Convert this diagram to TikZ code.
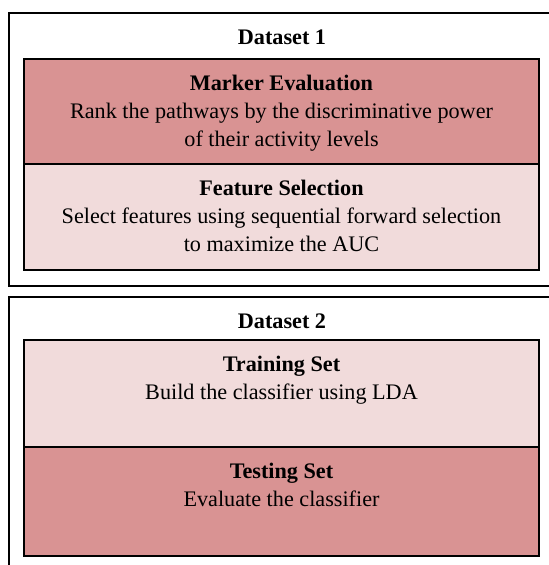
\documentclass[tikz,border=0pt]{standalone}
\usepackage{fontspec}
\setmainfont{Liberation Serif}

\definecolor{darkrose}{RGB}{217,147,147}
\definecolor{lightrose}{RGB}{241,219,219}

\begin{document}
\begin{tikzpicture}[
            x=0.5pt,
            y=-0.5pt,
            dataset/.style={
                draw,
                line width=0.6pt,
                minimum width=273.5pt,
                inner sep=0pt
            },
            stage/.style={
                draw,
                line width=0.6pt,
                minimum width=257.5pt,
                inner sep=0pt
            },
            caption/.style={
                anchor=north,
                align=center,
                inner sep=0pt,
                yshift=-8pt,
                font=\fontsize{11.1}{14}\selectfont
            }
        ]

            \useasboundingbox (0, 0) rectangle (548, 565);

            \node[dataset, minimum height=136.5pt] (set1) at (282.5, 149.5) {};
            \node[dataset, minimum height=139pt] (set2) at (282.5, 436) {};

            \node[stage, fill=darkrose, minimum height=52.5pt] (marker) at (281.5, 111.5) {};
            \node[stage, fill=lightrose, minimum height=53pt] (feature) at (281.5, 217) {};
            \node[stage, fill=lightrose, minimum height=53.5pt] (train) at (281.5, 393.5) {};
            \node[stage, fill=darkrose, minimum height=54.5pt] (test) at (281.5, 501.5) {};

            \node[caption] (set1-text) at (282, 13) {\textbf{Dataset 1}};
            \node[caption] (set2-text) at (282, 297) {\textbf{Dataset 2}};

            \node[caption] (marker-text) at (marker.north) {\textbf{Marker Evaluation}\\
                Rank the pathways by the discriminative power\\
                of their activity levels};
            \node[caption] (feature-text) at (feature.north) {\textbf{Feature Selection}\\
                Select features using sequential forward selection\\
                to maximize the AUC};
            \node[caption] (train-text) at (train.north) {\textbf{Training Set}\\
                Build the classifier using LDA};
            \node[caption] (test-text) at (test.north) {\textbf{Testing Set}\\
                Evaluate the classifier};

        \end{tikzpicture}
\end{document}
